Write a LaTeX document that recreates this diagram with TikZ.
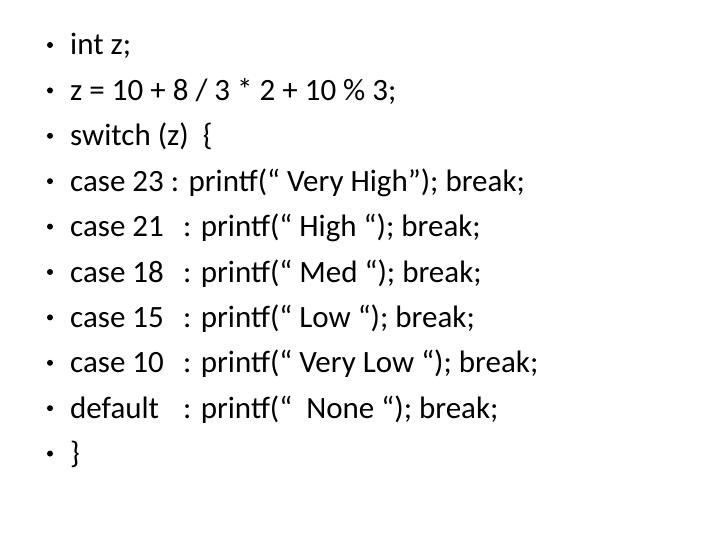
\documentclass[tikz,border=0pt]{standalone}
\usepackage{fontspec}
\setmainfont{Carlito}
\usetikzlibrary{positioning}
\newcommand{\lbl}[1]{\makebox[113pt][l]{#1}}
\begin{document}
\begin{tikzpicture}[
    x=1pt, y=-1pt,
    line/.style={anchor=base west, inner sep=0pt, font=\fontsize{31}{34}\selectfont},
    dot/.style={circle, fill=black, inner sep=0pt, minimum size=6pt},
]
    \useasboundingbox (0,0) rectangle (720,540);

    \foreach \i/\txt in {
        1/{int z;},
        2/{z = 10 + 8 / 3 * 2 + 10 \% 3;},
        3/{switch (z)\ \ \{},
        4/{case 23 : printf(“ Very High”); break;},
        5/{\lbl{case 21}: printf(“ High “); break;},
        6/{\lbl{case 18}: printf(“ Med “); break;},
        7/{\lbl{case 15}: printf(“ Low “); break;},
        8/{\lbl{case 10}: printf(“ Very Low “); break;},
        9/{\lbl{default}: printf(“\ \ None “); break;},
        10/{\}}
    }{
        \node[line] (l\i) at (70, 55+45.4*\i-45.4) {\txt};
        \node[dot] (b\i) at (50, 45+45.4*\i-45.4) {};
    }
\end{tikzpicture}
\end{document}
